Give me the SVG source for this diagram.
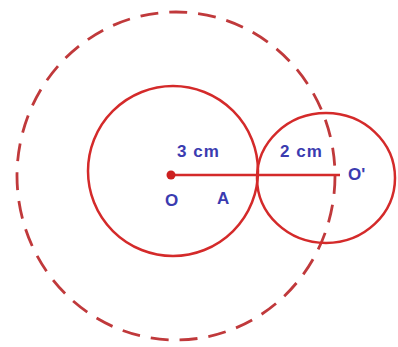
<svg xmlns="http://www.w3.org/2000/svg" width="398" height="347" viewBox="0 0 398 347">
<style>
.c{fill:none;stroke:#d42a2a;stroke-width:2.5}
.d{fill:none;stroke:#c0393b;stroke-width:2.8;stroke-dasharray:18 11}
.t{font-family:"Liberation Sans",Arial,sans-serif;font-weight:bold;font-size:17px;fill:#3b3bb0}
</style>
<rect width="398" height="347" fill="#fff"/>
<g id="dashed-circle"><ellipse class="d" cx="176" cy="176" rx="159" ry="164"/></g>
<g id="circle-O"><circle class="c" cx="173" cy="171" r="85"/></g>
<g id="circle-O2"><ellipse class="c" cx="326" cy="178" rx="69" ry="65"/></g>
<g id="connectors"><line x1="171" y1="175" x2="340" y2="175" stroke="#d42a2a" stroke-width="2.5"/></g>
<g id="point-O"><circle cx="171" cy="175" r="4.5" fill="#cc2020"/><text class="t" x="165" y="206">O</text></g>
<g id="point-A"><text class="t" x="217" y="204">A</text></g>
<g id="point-O2"><text class="t" x="348" y="180">O'</text></g>
<g id="labels"><text class="t" x="177" y="157" letter-spacing="1">3 cm</text><text class="t" x="280" y="157" letter-spacing="1">2 cm</text></g>
</svg>
